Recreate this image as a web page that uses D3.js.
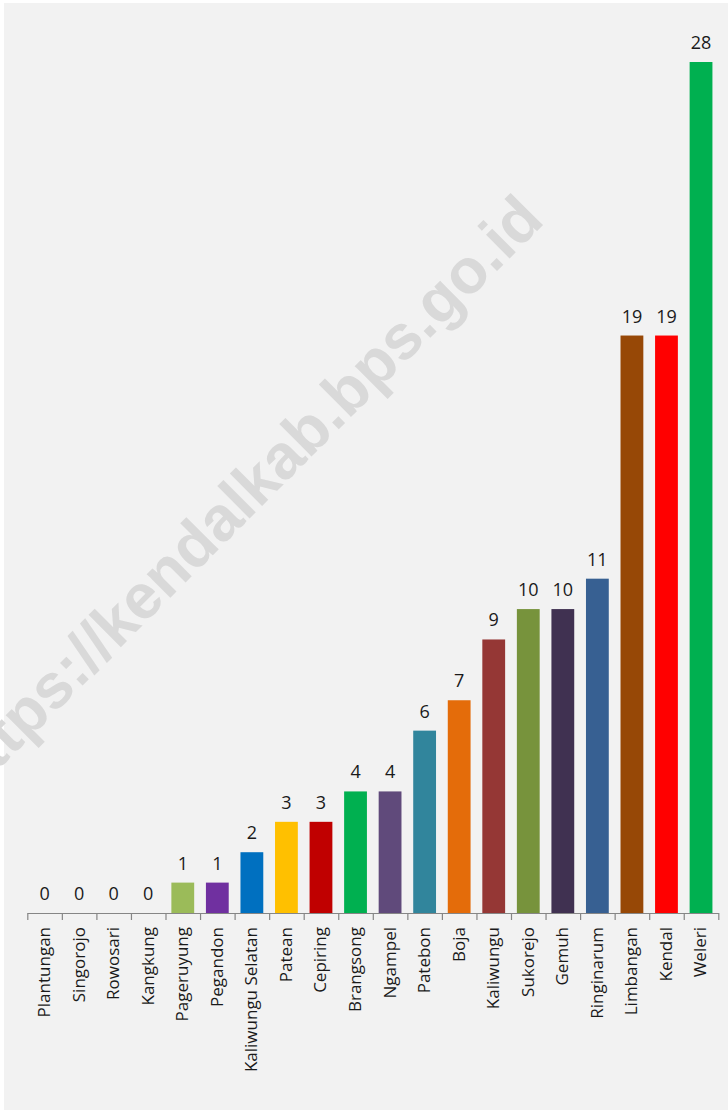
<!DOCTYPE html>
<html>
<head>
<meta charset="utf-8">
<script src="https://cdn.jsdelivr.net/npm/d3@7"></script>
<style>
  body { margin: 0; background: #ffffff; }
  svg { display: block; }
</style>
</head>
<body>
<div id="chart"></div>
<script>
// data
const categories = ['Plantungan', 'Singorojo', 'Rowosari', 'Kangkung', 'Pageruyung', 'Pegandon',
    'Kaliwungu Selatan', 'Patean', 'Cepiring', 'Brangsong', 'Ngampel', 'Patebon', 'Boja',
    'Kaliwungu', 'Sukorejo', 'Gemuh', 'Ringinarum', 'Limbangan', 'Kendal', 'Weleri'];
const values = [0, 0, 0, 0, 1, 1, 2, 3, 3, 4, 4, 6, 7, 9, 10, 10, 11, 19, 19, 28];
const barColors = ['#a5a5a5', '#a5a5a5', '#a5a5a5', '#a5a5a5', '#9bbb59', '#7030a0',
    '#0070c0', '#ffc000', '#c00000', '#00b050', '#604a7b', '#31859c', '#e46c0a',
    '#953735', '#77933c', '#403151', '#376092', '#974806', '#ff0000', '#00b050'];

const width = 728, height = 1110;
const axisY = 913;
const left = 27.3, right = 718.3;

const svg = d3.select('#chart').append('svg')
    .attr('width', width)
    .attr('height', height);

// panel
svg.append('rect')
    .attr('x', 4).attr('y', 3)
    .attr('width', width - 4).attr('height', height - 3)
    .attr('fill', '#f2f2f2');

// watermark
svg.append('text')
    .attr('transform', 'translate(546, 222) rotate(-45)')
    .attr('text-anchor', 'end')
    .attr('font-family', 'Liberation Sans, Arial, sans-serif')
    .attr('font-weight', 'bold')
    .attr('font-size', 63)
    .attr('fill', '#d9d9d9')
    .text('https://kendalkab.bps.go.id');

const x = d3.scaleBand()
    .domain(categories)
    .range([left, right])
    .paddingInner(0.34)
    .paddingOuter(0.17);

const y = d3.scaleLinear()
    .domain([0, d3.max(values)])
    .range([axisY, 62]);

// category boundary ticks
const xEdge = d3.scaleLinear()
    .domain([0, categories.length])
    .range([left, right]);

const data = categories.map((c, i) => ({ name: c, value: values[i], color: barColors[i] }));

// bars
svg.selectAll('.bar').data(data)
    .enter().append('rect')
    .attr('class', 'bar')
    .attr('x', d => x(d.name))
    .attr('y', d => y(d.value))
    .attr('width', x.bandwidth())
    .attr('height', d => axisY - y(d.value))
    .attr('fill', d => d.color);

// axis
const axis = svg.append('g')
    .attr('transform', 'translate(0,' + axisY + ')')
    .call(d3.axisBottom(xEdge)
        .tickValues(d3.range(categories.length + 1))
        .tickSize(7)
        .tickSizeOuter(0)
        .tickFormat(''));
axis.selectAll('path, line').attr('stroke', '#868686').attr('stroke-width', 1.2);

// value labels
svg.selectAll('.value').data(data)
    .enter().append('text')
    .attr('class', 'value')
    .attr('x', d => x(d.name) + x.bandwidth() / 2)
    .attr('y', d => y(d.value) - 13)
    .attr('text-anchor', 'middle')
    .attr('font-family', 'Open Sans, sans-serif')
    .attr('font-size', 18)
    .attr('fill', '#1a1a1a')
    .text(d => d.value);

// category labels
svg.selectAll('.cat').data(data)
    .enter().append('text')
    .attr('class', 'cat')
    .attr('transform', d => 'translate(' + (x(d.name) + x.bandwidth() / 2) + ',' + 927 + ') rotate(-90)')
    .attr('dy', '0.32em')
    .attr('text-anchor', 'end')
    .attr('font-family', 'Open Sans, sans-serif')
    .attr('font-size', 17)
    .attr('fill', '#1a1a1a')
    .text(d => d.name);
</script>
</body>
</html>
